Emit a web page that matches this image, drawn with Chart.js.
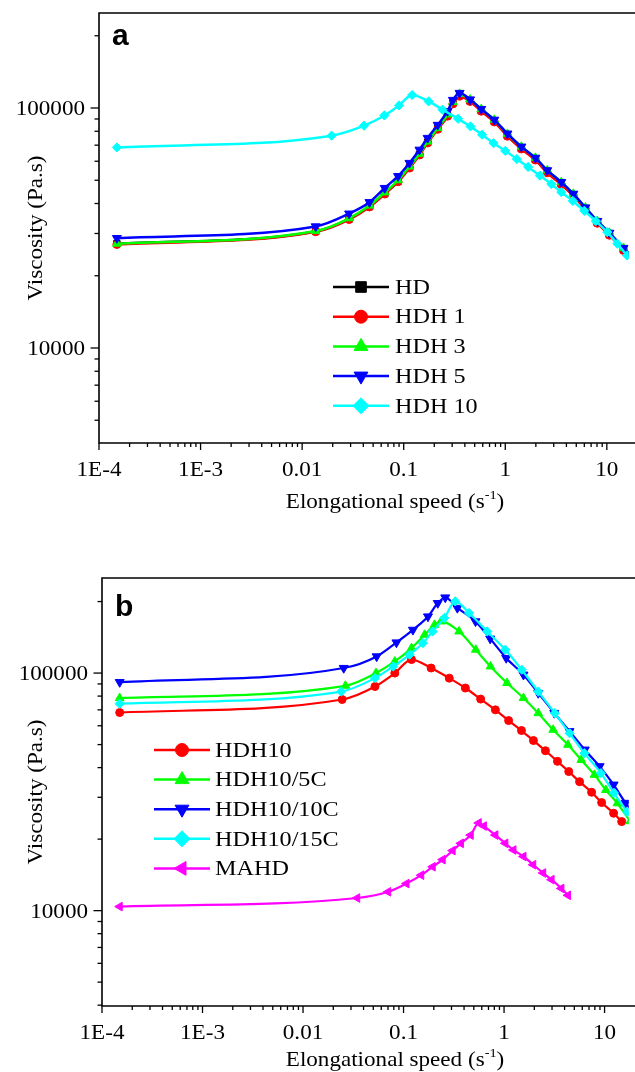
<!DOCTYPE html>
<html><head><meta charset="utf-8">
<script src="https://cdn.jsdelivr.net/npm/chart.js@4.4.0/dist/chart.umd.min.js"></script>
<style>
html,body{margin:0;padding:0;background:#fff;width:635px;height:1072px;overflow:hidden}
.wrap{position:absolute;left:0;width:635px}
canvas{display:block}
</style></head><body>
<div class="wrap" style="top:0;height:530px"><canvas id="ca" width="635" height="530"></canvas></div>
<div class="wrap" style="top:560px;height:512px"><canvas id="cb" width="635" height="512"></canvas></div>
<script>
// ---------- tick labels ----------
const xTickValues = [1e-4, 1e-3, 0.01, 0.1, 1, 10];
const xTickLabels = ['1E-4', '1E-3', '0.01', '0.1', '1', '10'];
const yTickValues = [10000, 100000];
const yTickLabels = ['10000', '100000'];

// ---------- panel a ----------
const aSeriesNames = ['HD', 'HDH 1', 'HDH 3', 'HDH 5', 'HDH 10'];
const aSpeed = [0.00015, 0.0136, 0.029, 0.046, 0.065, 0.088, 0.114, 0.143, 0.172, 0.216, 0.27, 0.305, 0.355, 0.45, 0.58, 0.78, 1.05, 1.44, 1.98, 2.59, 3.56, 4.68, 6.15, 8.07, 10.6, 14.6, 19.0];
const aHD   = [27200, 30600, 34500, 38900, 44000, 49500, 56500, 64000, 72000, 82000, 93000, 105000, 113000, 107000, 97500, 88000, 76700, 67800, 61000, 54000, 48300, 43300, 38000, 33300, 29700, 25700, 23000];
const aHDH1 = [27000, 30500, 34300, 38700, 43800, 49300, 56200, 63700, 71500, 81500, 92500, 104000, 112000, 106500, 97000, 87500, 76300, 67500, 60700, 53700, 48000, 43000, 37800, 33100, 29500, 25500, 22800];
const aHDH3 = [27200, 30700, 34700, 39200, 44500, 50000, 57000, 64500, 72500, 82500, 94000, 106000, 114500, 108500, 99000, 89300, 78000, 69000, 62000, 55000, 49100, 43900, 38500, 33800, 30200, 26100, 23300];
const aHDH5 = [28700, 32100, 36300, 40500, 46400, 52000, 59000, 67000, 75000, 85000, 97000, 108000, 115500, 108500, 99000, 89300, 78200, 69000, 62000, 55000, 49100, 43900, 38500, 33800, 30200, 26100, 23300];
const aSpeed10 = [0.00015, 0.0195, 0.0407, 0.0646, 0.090, 0.121, 0.176, 0.241, 0.343, 0.455, 0.591, 0.767, 1.0, 1.30, 1.68, 2.19, 2.84, 3.56, 4.62, 6.0, 7.8, 10.1, 12.7, 15.8, 20];
const aHDH10 = [68500, 76700, 84400, 93100, 102500, 113300, 106500, 98400, 90200, 83800, 77400, 71400, 66300, 61300, 56800, 52300, 48200, 44600, 41000, 37300, 33800, 30400, 27200, 24300, 21800];

// ---------- panel b ----------
const bSeriesNames = ['HDH10', 'HDH10/5C', 'HDH10/10C', 'HDH10/15C', 'MAHD'];
const bSpeedHDH10 = [0.00015, 0.0245, 0.052, 0.0819, 0.12, 0.188, 0.285, 0.412, 0.585, 0.82, 1.11, 1.49, 1.96, 2.58, 3.4, 4.4, 5.64, 7.43, 9.35, 12.3, 14.8];
const bHDH10 = [68200, 77400, 87800, 100000, 114000, 105000, 95200, 86500, 77700, 70000, 63100, 57300, 52000, 47100, 42500, 38500, 34900, 31500, 28500, 25700, 23700];
const bSpeed5C = [0.00015, 0.0264, 0.0532, 0.0819, 0.12, 0.162, 0.203, 0.236, 0.357, 0.523, 0.733, 1.07, 1.56, 2.19, 3.08, 4.32, 5.86, 7.93, 10.3, 13.4, 18];
const bHDH10_5C = [78500, 88400, 100000, 111900, 127400, 144900, 159500, 165000, 149700, 125400, 106600, 90800, 78500, 67800, 57700, 49900, 43100, 37300, 32200, 28300, 23800];
const bSpeed10C = [0.00015, 0.0254, 0.054, 0.085, 0.124, 0.175, 0.219, 0.26, 0.343, 0.52, 0.728, 1.05, 1.56, 2.19, 3.16, 4.48, 6.35, 8.93, 12.3, 16.2, 20];
const bHDH10_10C = [91600, 105000, 117500, 134500, 152000, 173000, 197000, 208000, 188000, 165000, 139600, 115700, 98400, 82400, 67900, 56900, 47600, 40500, 33900, 28400, 25600];
const bSpeed15C = [0.00015, 0.024, 0.052, 0.079, 0.115, 0.156, 0.195, 0.255, 0.327, 0.449, 0.68, 1.03, 1.5, 2.19, 3.2, 4.49, 6.3, 9.2, 12.4, 16.8, 21];
const bHDH10_15C = [74300, 83600, 95300, 106600, 119500, 133700, 149700, 170600, 200300, 179000, 149700, 125400, 103300, 83600, 67800, 55800, 46000, 37900, 31300, 26000, 23000];
const bSpeedMAHD = [0.00015, 0.0346, 0.0704, 0.107, 0.15, 0.195, 0.245, 0.308, 0.372, 0.466, 0.56, 0.63, 0.82, 1.03, 1.24, 1.56, 1.95, 2.45, 2.97, 3.72, 4.33];
const bMAHD = [10400, 11300, 12000, 13000, 14100, 15300, 16400, 17900, 19200, 20800, 23400, 22700, 20800, 19200, 18000, 16900, 15600, 14400, 13500, 12400, 11600];

const SERIF = '"Liberation Serif", "Times New Roman", serif';
const SX = 1.1; // horizontal stretch of the serif text

function series(label, xs, ys, color, style, rot, r, order, lw) {
  return {
    label, data: xs.map((x, i) => ({x, y: ys[i]})),
    borderColor: color, backgroundColor: color,
    pointBackgroundColor: color, pointBorderColor: color,
    pointStyle: style, pointRotation: rot, pointRadius: r, pointBorderWidth: 1,
    borderWidth: lw, showLine: true, cubicInterpolationMode: 'monotone', order,
    legendStyle: {style, rot}
  };
}

function sText(ctx, txt, x, y, align, font, rotate) {
  ctx.save();
  ctx.translate(x, y);
  if (rotate) ctx.rotate(rotate);
  ctx.scale(SX, 1);
  ctx.font = font;
  ctx.textAlign = align;
  ctx.fillText(txt, 0, 0);
  ctx.restore();
}

function makeFramePlugin(cfg) {
  return {
    id: 'frame' + cfg.panel,
    afterDraw(chart) {
      const ctx = chart.ctx, a = chart.chartArea;
      const xs = chart.scales.x, ys = chart.scales.y;
      ctx.save();
      ctx.strokeStyle = '#000'; ctx.fillStyle = '#000';
      // frame (right side is cut off)
      ctx.lineWidth = 1.6;
      ctx.beginPath();
      ctx.moveTo(chart.width + 2, a.top); ctx.lineTo(a.left, a.top);
      ctx.lineTo(a.left, a.bottom); ctx.lineTo(chart.width + 2, a.bottom);
      ctx.stroke();
      // ticks
      ctx.lineWidth = 1.3;
      for (let d = -4; d <= 2; d++) {
        for (let m = 1; m <= 9; m++) {
          const v = m * Math.pow(10, d);
          if (v < xs.min * 0.999 || v > xs.max) continue;
          const px = xs.getPixelForValue(v);
          const L = m === 1 ? 7 : 4;
          ctx.beginPath(); ctx.moveTo(px, a.bottom); ctx.lineTo(px, a.bottom + L); ctx.stroke();
        }
      }
      for (let d = 3; d <= 5; d++) {
        for (let m = 1; m <= 9; m++) {
          const v = m * Math.pow(10, d);
          if (v < ys.min || v > ys.max) continue;
          const py = ys.getPixelForValue(v);
          const L = m === 1 ? 8.5 : 4.5;
          ctx.beginPath(); ctx.moveTo(a.left, py); ctx.lineTo(a.left - L, py); ctx.stroke();
        }
      }
      // tick labels
      ctx.textBaseline = 'alphabetic';
      const tf = '21px ' + SERIF;
      xTickValues.forEach((v, i) => {
        sText(ctx, xTickLabels[i], xs.getPixelForValue(v), a.bottom + 33, 'center', tf);
      });
      yTickValues.forEach((v, i) => {
        sText(ctx, yTickLabels[i], a.left - 14, ys.getPixelForValue(v) + 7, 'right', tf);
      });
      // y title
      ctx.textBaseline = 'middle';
      sText(ctx, 'Viscosity (Pa.s)', 36, (a.top + a.bottom) / 2, 'center', '21px ' + SERIF, -Math.PI / 2);
      // x title with superscript
      ctx.textBaseline = 'alphabetic';
      const f1 = '21px ' + SERIF, f2 = '13px ' + SERIF;
      const p1 = 'Elongational speed (s', p2 = '-1', p3 = ')';
      ctx.font = f1; const w1 = ctx.measureText(p1).width * SX, w3 = ctx.measureText(p3).width * SX;
      ctx.font = f2; const w2 = ctx.measureText(p2).width * SX;
      let x0 = cfg.xTitleX - (w1 + w2 + w3) / 2;
      const by = a.bottom + cfg.xTitleDy;
      sText(ctx, p1, x0, by, 'left', f1);
      sText(ctx, p2, x0 + w1, by - 9, 'left', f2);
      sText(ctx, p3, x0 + w1 + w2, by, 'left', f1);
      // panel letter
      ctx.font = 'bold 30px "Liberation Sans", Arial, sans-serif';
      ctx.textAlign = 'left';
      ctx.fillText(cfg.panel, a.left + 13, a.top + cfg.letterDy);
      // legend
      const L = cfg.legend;
      chart.data.datasets.forEach((ds, i) => {
        const y = L.y0 + i * L.dy;
        ctx.strokeStyle = ds.borderColor; ctx.fillStyle = ds.borderColor;
        ctx.lineWidth = 2.5;
        ctx.beginPath(); ctx.moveTo(L.x0, y); ctx.lineTo(L.x1, y); ctx.stroke();
        ctx.lineWidth = 1;
        Chart.helpers.drawPoint(ctx, {pointStyle: ds.legendStyle.style, rotation: ds.legendStyle.rot,
          radius: ds.legendStyle.style === 'circle' ? 6.5 : (ds.legendStyle.style === 'rect' ? 7.5 : 8), borderWidth: 1}, (L.x0 + L.x1) / 2, y);
        ctx.fillStyle = '#000';
        ctx.textBaseline = 'middle';
        sText(ctx, ds.label, L.tx, y + 1, 'left', '22px ' + SERIF);
      });
      ctx.restore();
    }
  };
}

function makeChart(id, datasets, cfg) {
  return new Chart(document.getElementById(id), {
    type: 'scatter',
    data: {datasets},
    options: {
      responsive: false, animation: false, events: [],
      layout: {padding: {left: 0, right: 0, top: cfg.top, bottom: 0}},
      plugins: {legend: {display: false}, tooltip: {enabled: false}},
      scales: {
        x: {type: 'logarithmic', min: 1e-4, max: cfg.xmax,
            grid: {display: false}, border: {display: false}, ticks: {display: false},
            afterFit: s => { s.height = cfg.xh; }},
        y: {type: 'logarithmic', min: cfg.ymin, max: cfg.ymax,
            grid: {display: false}, border: {display: false}, ticks: {display: false},
            afterFit: s => { s.width = cfg.yw; }}
      }
    },
    plugins: [makeFramePlugin(cfg)]
  });
}

makeChart('ca', [
  series(aSeriesNames[0], aSpeed, aHD, '#000000', 'rect', 0, 4.5, 5, 2.5),
  series(aSeriesNames[1], aSpeed, aHDH1, '#ff0000', 'circle', 0, 4, 4, 2.5),
  series(aSeriesNames[2], aSpeed, aHDH3, '#00ff00', 'triangle', 0, 5, 3, 2.5),
  series(aSeriesNames[3], aSpeed, aHDH5, '#0000ff', 'triangle', 180, 5.2, 2, 2.5),
  series(aSeriesNames[4], aSpeed10, aHDH10, '#00ffff', 'rectRot', 0, 4.6, 1, 2.5)
], {panel: 'a', top: 13, xh: 87, yw: 99, xmax: 16.45, ymin: 4019, ymax: 248800,
    xTitleX: 395, xTitleDy: 65, letterDy: 32,
    legend: {x0: 333, x1: 389, tx: 395, y0: 287, dy: 29.7}});

makeChart('cb', [
  series(bSeriesNames[0], bSpeedHDH10, bHDH10, '#ff0000', 'circle', 0, 4, 5, 2.2),
  series(bSeriesNames[1], bSpeed5C, bHDH10_5C, '#00ff00', 'triangle', 0, 5, 4, 2.2),
  series(bSeriesNames[2], bSpeed10C, bHDH10_10C, '#0000ff', 'triangle', 180, 5.2, 3, 2.2),
  series(bSeriesNames[3], bSpeed15C, bHDH10_15C, '#00ffff', 'rectRot', 0, 4.6, 2, 2.2),
  series(bSeriesNames[4], bSpeedMAHD, bMAHD, '#ff00ff', 'triangle', -90, 5, 1, 2.2)
], {panel: 'b', top: 18, xh: 66, yw: 102, xmax: 17.42, ymin: 3968, ymax: 251300,
    xTitleX: 395, xTitleDy: 60, letterDy: 38,
    legend: {x0: 154, x1: 210, tx: 215, y0: 190, dy: 29.6}});
</script>
</body></html>
